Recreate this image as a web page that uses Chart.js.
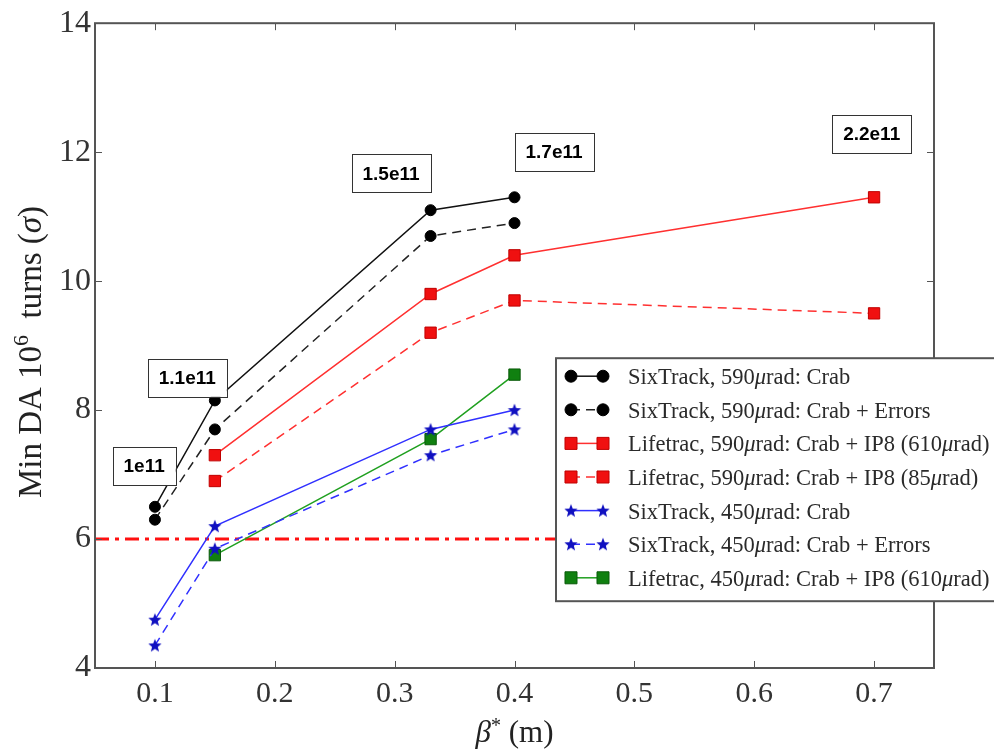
<!DOCTYPE html>
<html>
<head>
<meta charset="utf-8">
<script src="https://cdn.jsdelivr.net/npm/chart.js@4.4.1/dist/chart.umd.min.js"></script>
<style>
html, body { margin: 0; padding: 0; background: #fff; }
#wrap { width: 994px; height: 754px; }
</style>
</head>
<body>
<div id="wrap"><canvas id="da_chart"></canvas></div>
<script>
// beta* scan points (m)
var betaStar = [0.1, 0.15, 0.33, 0.4, 0.7];

// min DA (sigma) per configuration, null where not simulated
var sixTrack590 = [6.5, 8.15, 11.1, 11.3, null];
var sixTrack590Err = [6.3, 7.7, 10.7, 10.9, null];
var lifetrac590 = [null, 7.3, 9.8, 10.4, 11.3];
var lifetrac590ip85 = [null, 6.9, 9.2, 9.7, 9.5];
var sixTrack450 = [4.75, 6.2, 7.7, 8.0, null];
var sixTrack450Err = [4.35, 5.85, 7.3, 7.7, null];
var lifetrac450 = [null, 5.75, 7.55, 8.55, null];

// 6 sigma target
var limitX = [0.05, 0.75];
var limitY = [6, 6];

var xTicks = [0.1, 0.2, 0.3, 0.4, 0.5, 0.6, 0.7];
var yTicks = [4, 6, 8, 10, 12, 14];

// bunch intensity tags (placed in data coordinates)
var intensityText = ['1e11', '1.1e11', '1.5e11', '1.7e11', '2.2e11'];
var intensityX = [0.091, 0.127, 0.297, 0.433, 0.698];
var intensityY = [7.13, 8.5, 11.67, 12.0, 12.28];

var SERIF = "'Liberation Serif', 'DejaVu Serif', serif";

function points(ys) {
    var out = [];
    for (var i = 0; i < betaStar.length; i++) {
        if (ys[i] !== null) out.push({ x: betaStar[i], y: ys[i] });
    }
    return out;
}

// filled five point star used as marker
function starImage(color) {
    var c = document.createElement('canvas');
    c.width = 16; c.height = 16;
    var g = c.getContext('2d');
    g.beginPath();
    for (var i = 0; i < 10; i++) {
        var r = i % 2 === 0 ? 7 : 3;
        var a = -Math.PI / 2 + i * Math.PI / 5;
        var px = 8 + r * Math.cos(a), py = 8.5 + r * Math.sin(a);
        if (i === 0) g.moveTo(px, py); else g.lineTo(px, py);
    }
    g.closePath();
    g.fillStyle = color;
    g.fill();
    return c;
}
var blueStar = starImage('#1010c0');

function series(label, ys, color, dash, style, radius, fill, edge) {
    return {
        label: label,
        data: points(ys),
        borderColor: color,
        borderWidth: 1.5,
        borderDash: dash,
        pointStyle: style,
        pointRadius: radius,
        pointHoverRadius: radius,
        pointBackgroundColor: fill,
        pointBorderColor: edge,
        pointBorderWidth: 1,
        fill: false,
        tension: 0
    };
}

var datasets = [
    series('SixTrack, 590μrad: Crab', sixTrack590, '#111', [], 'circle', 5.5, '#000', '#000'),
    series('SixTrack, 590μrad: Crab + Errors', sixTrack590Err, '#222', [9, 6], 'circle', 5.5, '#000', '#000'),
    series('Lifetrac, 590μrad: Crab + IP8 (610μrad)', lifetrac590, '#ff3030', [], 'rect', 8, '#f01010', '#c00000'),
    series('Lifetrac, 590μrad: Crab + IP8 (85μrad)', lifetrac590ip85, '#ff3030', [9, 6], 'rect', 8, '#f01010', '#c00000'),
    series('SixTrack, 450μrad: Crab', sixTrack450, '#3030ff', [], blueStar, 8, '#1010c0', '#1010c0'),
    series('SixTrack, 450μrad: Crab + Errors', sixTrack450Err, '#3030ff', [9, 6], blueStar, 8, '#1010c0', '#1010c0'),
    series('Lifetrac, 450μrad: Crab + IP8 (610μrad)', lifetrac450, '#20a020', [], 'rect', 8, '#108010', '#0a5a0a'),
    {
        label: 'limit',
        data: limitX.map(function (x, i) { return { x: x, y: limitY[i] }; }),
        borderColor: '#ff1010',
        borderWidth: 3,
        borderDash: [14, 6, 4, 6],
        pointRadius: 0,
        fill: false
    }
];

// text made of runs with their own font and vertical shift
function drawRuns(ctx, runs, cx, cy) {
    var total = 0;
    runs.forEach(function (r) { ctx.font = r.font; r.w = ctx.measureText(r.text).width; total += r.w; });
    var x = cx - total / 2;
    ctx.textAlign = 'left';
    ctx.textBaseline = 'alphabetic';
    runs.forEach(function (r) {
        ctx.font = r.font;
        ctx.fillText(r.text, x, cy + (r.dy || 0));
        x += r.w;
    });
}

function labelRuns(text, size) {
    var parts = text.split('μ');
    var runs = [];
    parts.forEach(function (p, i) {
        if (i > 0) runs.push({ text: 'μ', font: 'italic ' + size + 'px ' + SERIF });
        runs.push({ text: p, font: size + 'px ' + SERIF });
    });
    return runs;
}

var decorations = {
    id: 'decorations',
    afterDraw: function (chart) {
        var ctx = chart.ctx;
        var a = chart.chartArea;
        var xs = chart.scales.x, ys = chart.scales.y;
        ctx.save();

        // frame and inward ticks on all four sides
        ctx.strokeStyle = '#555';
        ctx.lineWidth = 2;
        ctx.setLineDash([]);
        ctx.strokeRect(a.left, a.top, a.right - a.left, a.bottom - a.top);
        ctx.lineWidth = 1;
        ctx.beginPath();
        xTicks.forEach(function (v) {
            var px = Math.round(xs.getPixelForValue(v)) + 0.5;
            ctx.moveTo(px, a.bottom); ctx.lineTo(px, a.bottom - 7);
            ctx.moveTo(px, a.top); ctx.lineTo(px, a.top + 7);
        });
        yTicks.forEach(function (v) {
            var py = Math.round(ys.getPixelForValue(v)) + 0.5;
            ctx.moveTo(a.left, py); ctx.lineTo(a.left + 7, py);
            ctx.moveTo(a.right, py); ctx.lineTo(a.right - 7, py);
        });
        ctx.stroke();

        // intensity tags
        ctx.font = 'bold 19px "Liberation Sans", Arial, sans-serif';
        ctx.textAlign = 'center';
        ctx.textBaseline = 'middle';
        intensityText.forEach(function (t, i) {
            var cx = xs.getPixelForValue(intensityX[i]);
            var cy = ys.getPixelForValue(intensityY[i]);
            var w = ctx.measureText(t).width + 22, h = 38;
            ctx.fillStyle = '#fff';
            ctx.fillRect(cx - w / 2, cy - h / 2, w, h);
            ctx.strokeStyle = '#333';
            ctx.lineWidth = 1;
            ctx.strokeRect(Math.round(cx - w / 2) + 0.5, Math.round(cy - h / 2) + 0.5, Math.round(w), h);
            ctx.fillStyle = '#000';
            ctx.fillText(t, cx, cy + 1);
        });

        // legend box
        var lx = a.left + 461, ly = a.top + 335, lw = 460, lh = 243, row = 33.6;
        ctx.fillStyle = '#fff';
        ctx.fillRect(lx, ly, lw, lh);
        ctx.strokeStyle = '#555';
        ctx.lineWidth = 2;
        ctx.strokeRect(lx, ly, lw, lh);
        for (var i = 0; i < 7; i++) {
            var ds = chart.data.datasets[i];
            var cy = ly + 18 + i * row;
            var x0 = lx + 15, x1 = lx + 47;
            ctx.strokeStyle = ds.borderColor;
            ctx.lineWidth = ds.borderWidth;
            ctx.setLineDash(ds.borderDash);
            ctx.beginPath();
            ctx.moveTo(x0, cy); ctx.lineTo(x1, cy);
            ctx.stroke();
            ctx.setLineDash([]);
            ctx.fillStyle = ds.pointBackgroundColor;
            ctx.strokeStyle = ds.pointBorderColor;
            ctx.lineWidth = ds.pointBorderWidth;
            [x0, x1].forEach(function (px) {
                Chart.helpers.drawPoint(ctx, { pointStyle: ds.pointStyle, radius: ds.pointRadius + 0.5, rotation: 0, borderWidth: ds.pointBorderWidth }, px, cy);
            });
            ctx.fillStyle = '#2a2a2a';
            var runs = labelRuns(ds.label, 22.5);
            var tw = 0;
            runs.forEach(function (r) { ctx.font = r.font; tw += ctx.measureText(r.text).width; });
            drawRuns(ctx, runs, lx + 72 + tw / 2, cy + 8);
        }

        // axis titles
        ctx.fillStyle = '#222';
        drawRuns(ctx, [
            { text: 'β', font: 'italic 31px ' + SERIF },
            { text: '*', font: '20px ' + SERIF, dy: -10 },
            { text: ' (m)', font: '31px ' + SERIF }
        ], (a.left + a.right) / 2, 742);

        ctx.translate(41, 352);
        ctx.rotate(-Math.PI / 2);
        drawRuns(ctx, [
            { text: 'Min DA 10', font: '33px ' + SERIF },
            { text: '6', font: '22px ' + SERIF, dy: -13 },
            { text: '  turns (', font: '33px ' + SERIF },
            { text: 'σ', font: 'italic 33px ' + SERIF },
            { text: ')', font: '33px ' + SERIF }
        ], 0, 0);
        ctx.restore();
    }
};

new Chart(document.getElementById('da_chart'), {
    type: 'line',
    data: { datasets: datasets },
    options: {
        responsive: true,
        maintainAspectRatio: false,
        animation: false,
        layout: { padding: { left: 0, right: 60, top: 22, bottom: 0 } },
        plugins: {
            legend: { display: false },
            tooltip: { enabled: false }
        },
        scales: {
            x: {
                type: 'linear',
                min: 0.05,
                max: 0.75,
                afterBuildTicks: function (scale) {
                    scale.ticks = xTicks.map(function (v) { return { value: v }; });
                },
                afterFit: function (scale) { scale.height = 86; },
                grid: { display: false, drawTicks: false },
                border: { display: false },
                ticks: {
                    color: '#333',
                    padding: 8,
                    maxRotation: 0,
                    font: { family: SERIF, size: 30 },
                    callback: function (v) { return v.toFixed(1); }
                }
            },
            y: {
                min: 4,
                max: 14,
                afterBuildTicks: function (scale) {
                    scale.ticks = yTicks.map(function (v) { return { value: v }; });
                },
                afterFit: function (scale) { scale.width = 95; },
                grid: { display: false, drawTicks: false },
                border: { display: false },
                ticks: {
                    color: '#333',
                    padding: 4,
                    font: { family: SERIF, size: 32 }
                }
            }
        }
    },
    plugins: [decorations]
});
</script>
</body>
</html>
